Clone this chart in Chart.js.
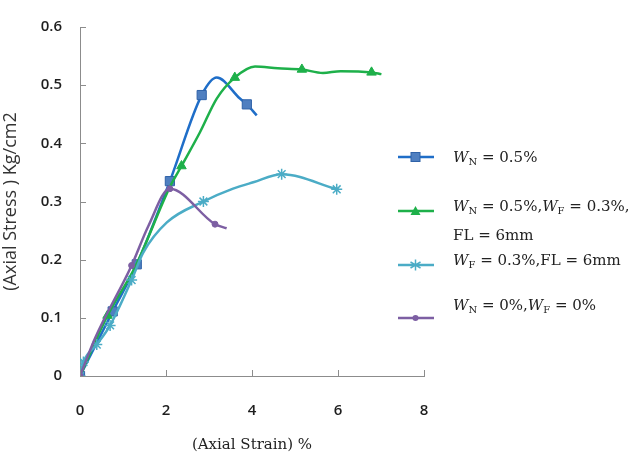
<!DOCTYPE html>
<html>
<head>
<meta charset="utf-8">
<script src="https://cdn.jsdelivr.net/npm/chart.js@4.4.0/dist/chart.umd.min.js"></script>
<style>
html,body{margin:0;padding:0;background:#fff;}
#wrap{position:relative;width:638px;height:454px;}
#legend{position:absolute;left:0;top:0;width:638px;height:454px;pointer-events:none;font-family:"DejaVu Serif","Liberation Serif",serif;color:#222;}
.txt{position:absolute;font-size:15px;white-space:nowrap;line-height:25px;}
.txt i{font-style:italic;}
.txt sub{font-size:10px;vertical-align:-3px;font-style:normal;}
</style>
</head>
<body>
<div id="wrap">
<canvas id="c" width="638" height="454"></canvas>
<div id="legend"></div>
</div>
<script>
const xTicks = [0, 2, 4, 6, 8];
const yTicks = [0, 0.1, 0.2, 0.3, 0.4, 0.5, 0.6];

const strainA = [0, 0.76, 1.32, 2.09, 2.83, 3.18, 3.72, 3.88, 4.11];
const stressA = [0, 0.111, 0.192, 0.335, 0.483, 0.513, 0.477, 0.467, 0.448];
const markA   = [1, 1, 1, 1, 1, 0, 0, 1, 0];

const strainB = [0, 0.64, 1.3, 2.09, 2.36, 2.79, 3.18, 3.6, 4.07, 4.6, 5.16, 5.65, 6.06, 6.78, 7.01];
const stressB = [0, 0.104, 0.19, 0.325, 0.361, 0.419, 0.477, 0.513, 0.532, 0.529, 0.527, 0.521, 0.524, 0.522, 0.519];
const markB   = [1, 1, 0, 0, 1, 0, 0, 1, 0, 0, 1, 0, 0, 1, 0];

const strainC = [0, 0.08, 0.39, 0.70, 1.2, 1.47, 2.02, 2.87, 3.56, 4.03, 4.69, 5.97];
const stressC = [0, 0.024, 0.054, 0.087, 0.165, 0.212, 0.264, 0.300, 0.322, 0.333, 0.347, 0.321];
const markC   = [1, 1, 1, 1, 1, 0, 0, 1, 0, 0, 1, 1];

const strainD = [0, 0.35, 1.2, 1.59, 2.09, 3.14, 3.41];
const stressD = [0, 0.065, 0.19, 0.258, 0.322, 0.261, 0.254];
const markD   = [1, 0, 1, 0, 1, 1, 0];

const labels = [
  '<i>W</i><sub>N</sub> = 0.5%',
  '<i>W</i><sub>N</sub> = 0.5%,<i>W</i><sub>F</sub> = 0.3%,<br>FL = 6mm',
  '<i>W</i><sub>F</sub> = 0.3%,FL = 6mm',
  '<i>W</i><sub>N</sub> = 0%,<i>W</i><sub>F</sub> = 0%'
];

function pts(xs, ys){ return xs.map((x,i)=>({x:x,y:ys[i]})); }
function radii(m, r){ return m.map(v=>v?r:0); }

const series = [
  {xs:strainA, ys:stressA, m:markA, line:'#1f6ec8', fill:'#4f7fc0', edge:'#2f62a8', style:'rect', r:6.5, bw:1},
  {xs:strainB, ys:stressB, m:markB, line:'#1eb04a', fill:'#1eb04a', edge:'#1eb04a', style:'triangle', r:5.5, bw:1},
  {xs:strainC, ys:stressC, m:markC, line:'#4bacc6', fill:'#4bacc6', edge:'#4bacc6', style:'star', r:5.5, bw:1.5},
  {xs:strainD, ys:stressD, m:markD, line:'#7d5fa3', fill:'#7d5fa3', edge:'#7d5fa3', style:'circle', r:3, bw:1}
];

const datasets = series.map((s,i)=>({
  label: labels[i],
  data: pts(s.xs, s.ys),
  borderColor: s.line,
  borderWidth: 2.5,
  backgroundColor: s.fill,
  pointBackgroundColor: s.fill,
  pointBorderColor: s.edge,
  pointBorderWidth: s.bw,
  pointStyle: s.style,
  pointRadius: radii(s.m, s.r),
  pointHoverRadius: 0,
  cubicInterpolationMode: 'monotone',
  fill: false,
  order: 4 - i
}));

const inwardTicks = {
  id:'inwardTicks',
  afterDatasetsDraw(chart){
    const ctx = chart.ctx, xs = chart.scales.x, ys = chart.scales.y;
    const ca = chart.chartArea;
    ctx.save();
    ctx.strokeStyle = '#8c8c8c';
    ctx.lineWidth = 1;
    ctx.beginPath();
    xTicks.forEach(v=>{ const p = Math.round(xs.getPixelForValue(v))+0.5; ctx.moveTo(p, ca.bottom); ctx.lineTo(p, ca.bottom-6); });
    yTicks.forEach(v=>{ const p = Math.round(ys.getPixelForValue(v))+0.5; ctx.moveTo(ca.left, p); ctx.lineTo(ca.left+6, p); });
    ctx.stroke();
    ctx.restore();
  }
};

new Chart(document.getElementById('c'), {
  type: 'line',
  data: { datasets },
  options: {
    responsive: false,
    animation: false,
    events: [],
    layout: { padding: { top: 13, right: 214, left: 0, bottom: 0 } },
    plugins: { legend: { display: false }, tooltip: { enabled: false } },
    scales: {
      x: {
        type: 'linear', min: 0, max: 8,
        afterBuildTicks(s){ s.ticks = xTicks.map(v=>({value:v})); },
        afterFit(s){ s.height = 78; },
        grid: { display: true, drawOnChartArea: false, drawTicks: false },
        border: { display: true, color: '#8c8c8c', width: 1 },
        ticks: { padding: 26, color: '#1e1e1e', font: { family: 'Open Sans', size: 15, weight: '600' } },
        title: { display: true, text: '(Axial Strain) %', color: '#222', padding: {top: 4, bottom: 0}, font: { family: 'DejaVu Serif', size: 15 } }
      },
      y: {
        type: 'linear', min: 0, max: 0.6,
        afterBuildTicks(s){ s.ticks = yTicks.map(v=>({value:v})); },
        afterFit(s){ s.width = 80; },
        grid: { display: true, drawOnChartArea: false, drawTicks: false },
        border: { display: true, color: '#8c8c8c', width: 1 },
        ticks: { padding: 18, color: '#1e1e1e', font: { family: 'Open Sans', size: 15, weight: '600' }, callback: v => String(v) },
        title: { display: true, text: '(Axial Stress ) Kg/cm2', color: '#333', padding: {top: 0, bottom: 0}, font: { family: 'Open Sans', size: 18 } }
      }
    }
  },
  plugins: [inwardTicks]
});

// HTML legend (text with subscripts)
const legendPos = [
  {line:157, text:145},
  {line:211, text:194},
  {line:265, text:248},
  {line:318, text:293}
];
const lg = document.getElementById('legend');
series.forEach((s,i)=>{
  const p = legendPos[i];
  let mk = '';
  if (s.style==='rect') mk = `<rect x="13" y="-4.5" width="9" height="9" fill="${s.fill}" stroke="${s.edge}" stroke-width="1"/>`;
  else if (s.style==='triangle') mk = `<polygon points="17.5,-5 22.5,4 12.5,4" fill="${s.fill}"/>`;
  else if (s.style==='star') mk = `<g stroke="${s.line}" stroke-width="1.5"><line x1="17.5" y1="-5.5" x2="17.5" y2="5.5"/><line x1="12.5" y1="-3" x2="22.5" y2="3"/><line x1="12.5" y1="3" x2="22.5" y2="-3"/></g>`;
  else mk = `<circle cx="17.5" cy="0" r="3" fill="${s.fill}"/>`;
  const svg = document.createElementNS('http://www.w3.org/2000/svg','svg');
  svg.setAttribute('width','40'); svg.setAttribute('height','20');
  svg.setAttribute('viewBox','0 -10 40 20');
  svg.style.position='absolute'; svg.style.left='398px'; svg.style.top=(p.line-10)+'px';
  svg.innerHTML = `<line x1="0" y1="0" x2="36" y2="0" stroke="${s.line}" stroke-width="2.5"/>` + mk;
  lg.appendChild(svg);
  const d = document.createElement('div');
  d.className='txt';
  d.style.left='453px'; d.style.top=p.text+'px';
  d.innerHTML = labels[i];
  lg.appendChild(d);
});
</script>
</body>
</html>
